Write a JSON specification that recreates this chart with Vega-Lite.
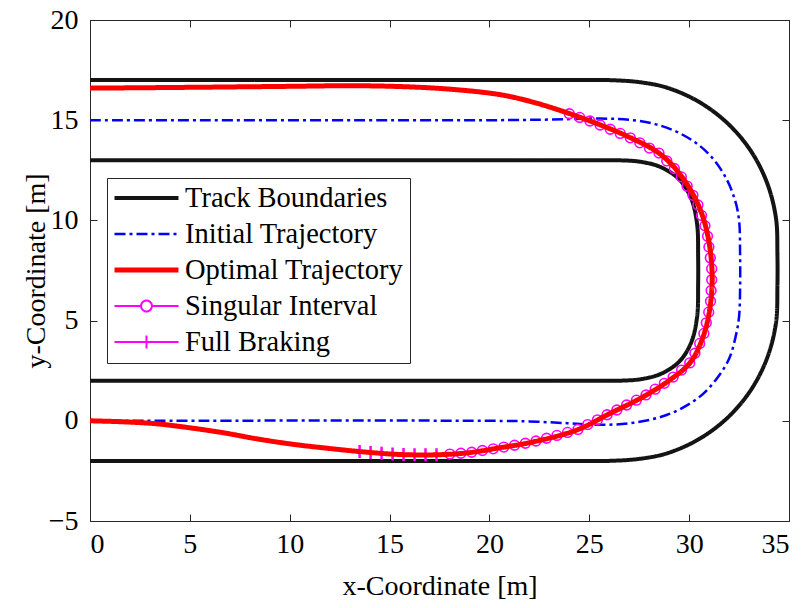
{
  "$schema": "https://vega.github.io/schema/vega-lite/v6.json",
  "width": 699,
  "height": 501,
  "autosize": {"type": "none"},
  "padding": {"left": 90, "top": 20, "right": 16, "bottom": 87},
  "background": "white",
  "config": {
    "view": {"stroke": "#262626", "strokeWidth": 1},
    "axis": {
      "grid": false,
      "domainColor": "#262626",
      "domainWidth": 1,
      "tickColor": "#262626",
      "tickWidth": 1,
      "tickSize": -7,
      "labelFont": "Liberation Serif",
      "labelFontSize": 28,
      "labelColor": "black",
      "titleFont": "Liberation Serif",
      "titleFontSize": 28,
      "titleFontWeight": "normal",
      "titleColor": "black"
    },
    "legend": {
      "orient": "none",
      "legendX": 17,
      "legendY": 158,
      "padding": 6,
      "fillColor": "white",
      "strokeColor": "#262626",
      "symbolSize": 4096,
      "symbolType": "M-1,0L1,0",
      "clipHeight": 28,
      "rowPadding": 7,
      "symbolOffset": -1,
      "labelOffset": 4,
      "labelFont": "Liberation Serif",
      "labelFontSize": 28.5,
      "labelColor": "black",
      "labelLimit": 400,
      "cornerRadius": 0
    }
  },
  "datasets": {
    "lines": [
      {"s": "Track Boundaries", "p": "outer", "i": 0, "x": 0, "y": 17},
      {"s": "Track Boundaries", "p": "outer", "i": 1, "x": 25, "y": 17},
      {"s": "Track Boundaries", "p": "outer", "i": 2, "x": 26, "y": 17},
      {"s": "Track Boundaries", "p": "outer", "i": 3, "x": 27.5, "y": 16.9},
      {"s": "Track Boundaries", "p": "outer", "i": 4, "x": 28.9, "y": 16.62},
      {"s": "Track Boundaries", "p": "outer", "i": 5, "x": 30.5, "y": 15.91},
      {"s": "Track Boundaries", "p": "outer", "i": 6, "x": 31.94, "y": 14.83},
      {"s": "Track Boundaries", "p": "outer", "i": 7, "x": 33.1, "y": 13.45},
      {"s": "Track Boundaries", "p": "outer", "i": 8, "x": 33.91, "y": 11.85},
      {"s": "Track Boundaries", "p": "outer", "i": 9, "x": 34.35, "y": 10.1},
      {"s": "Track Boundaries", "p": "outer", "i": 10, "x": 34.42, "y": 8.3},
      {"s": "Track Boundaries", "p": "outer", "i": 11, "x": 34.42, "y": 6.7},
      {"s": "Track Boundaries", "p": "outer", "i": 12, "x": 34.35, "y": 4.9},
      {"s": "Track Boundaries", "p": "outer", "i": 13, "x": 33.91, "y": 3.15},
      {"s": "Track Boundaries", "p": "outer", "i": 14, "x": 33.1, "y": 1.55},
      {"s": "Track Boundaries", "p": "outer", "i": 15, "x": 31.94, "y": 0.17},
      {"s": "Track Boundaries", "p": "outer", "i": 16, "x": 30.5, "y": -0.91},
      {"s": "Track Boundaries", "p": "outer", "i": 17, "x": 28.9, "y": -1.62},
      {"s": "Track Boundaries", "p": "outer", "i": 18, "x": 27.5, "y": -1.9},
      {"s": "Track Boundaries", "p": "outer", "i": 19, "x": 26, "y": -2},
      {"s": "Track Boundaries", "p": "outer", "i": 20, "x": 25, "y": -2},
      {"s": "Track Boundaries", "p": "outer", "i": 21, "x": 0, "y": -2},
      {"s": "Track Boundaries", "p": "inner", "i": 0, "x": 0, "y": 13},
      {"s": "Track Boundaries", "p": "inner", "i": 1, "x": 25, "y": 13},
      {"s": "Track Boundaries", "p": "inner", "i": 2, "x": 26.5, "y": 13},
      {"s": "Track Boundaries", "p": "inner", "i": 3, "x": 27.6, "y": 12.92},
      {"s": "Track Boundaries", "p": "inner", "i": 4, "x": 28.6, "y": 12.65},
      {"s": "Track Boundaries", "p": "inner", "i": 5, "x": 29.5, "y": 12.05},
      {"s": "Track Boundaries", "p": "inner", "i": 6, "x": 30.1, "y": 11.1},
      {"s": "Track Boundaries", "p": "inner", "i": 7, "x": 30.4, "y": 9.8},
      {"s": "Track Boundaries", "p": "inner", "i": 8, "x": 30.45, "y": 8.2},
      {"s": "Track Boundaries", "p": "inner", "i": 9, "x": 30.45, "y": 6.8},
      {"s": "Track Boundaries", "p": "inner", "i": 10, "x": 30.4, "y": 5.2},
      {"s": "Track Boundaries", "p": "inner", "i": 11, "x": 30.1, "y": 3.9},
      {"s": "Track Boundaries", "p": "inner", "i": 12, "x": 29.5, "y": 2.95},
      {"s": "Track Boundaries", "p": "inner", "i": 13, "x": 28.6, "y": 2.35},
      {"s": "Track Boundaries", "p": "inner", "i": 14, "x": 27.6, "y": 2.08},
      {"s": "Track Boundaries", "p": "inner", "i": 15, "x": 26.5, "y": 2},
      {"s": "Track Boundaries", "p": "inner", "i": 16, "x": 25, "y": 2},
      {"s": "Track Boundaries", "p": "inner", "i": 17, "x": 0, "y": 2},
      {"s": "Initial Trajectory", "p": "a", "i": 0, "x": 0, "y": 15},
      {"s": "Initial Trajectory", "p": "a", "i": 1, "x": 20, "y": 15},
      {"s": "Initial Trajectory", "p": "a", "i": 2, "x": 23, "y": 15.03},
      {"s": "Initial Trajectory", "p": "a", "i": 3, "x": 25.5, "y": 15.08},
      {"s": "Initial Trajectory", "p": "a", "i": 4, "x": 27.2, "y": 15.0},
      {"s": "Initial Trajectory", "p": "a", "i": 5, "x": 28.6, "y": 14.72},
      {"s": "Initial Trajectory", "p": "a", "i": 6, "x": 29.9, "y": 14.15},
      {"s": "Initial Trajectory", "p": "a", "i": 7, "x": 30.95, "y": 13.35},
      {"s": "Initial Trajectory", "p": "a", "i": 8, "x": 31.8, "y": 12.2},
      {"s": "Initial Trajectory", "p": "a", "i": 9, "x": 32.3, "y": 11.0},
      {"s": "Initial Trajectory", "p": "a", "i": 10, "x": 32.5, "y": 10.0},
      {"s": "Initial Trajectory", "p": "a", "i": 11, "x": 32.55, "y": 8.4},
      {"s": "Initial Trajectory", "p": "a", "i": 12, "x": 32.55, "y": 6.5},
      {"s": "Initial Trajectory", "p": "a", "i": 13, "x": 32.5, "y": 5.2},
      {"s": "Initial Trajectory", "p": "a", "i": 14, "x": 32.35, "y": 4.3},
      {"s": "Initial Trajectory", "p": "a", "i": 15, "x": 32.0, "y": 3.1},
      {"s": "Initial Trajectory", "p": "a", "i": 16, "x": 31.3, "y": 2.0},
      {"s": "Initial Trajectory", "p": "a", "i": 17, "x": 30.4, "y": 1.1},
      {"s": "Initial Trajectory", "p": "a", "i": 18, "x": 28.9, "y": 0.3},
      {"s": "Initial Trajectory", "p": "a", "i": 19, "x": 27.2, "y": -0.1},
      {"s": "Initial Trajectory", "p": "a", "i": 20, "x": 25.5, "y": -0.2},
      {"s": "Initial Trajectory", "p": "a", "i": 21, "x": 23.9, "y": -0.12},
      {"s": "Initial Trajectory", "p": "a", "i": 22, "x": 22, "y": -0.03},
      {"s": "Initial Trajectory", "p": "a", "i": 23, "x": 20, "y": 0},
      {"s": "Initial Trajectory", "p": "a", "i": 24, "x": 0, "y": 0},
      {"s": "Optimal Trajectory", "p": "a", "i": 0, "x": 0, "y": 16.6},
      {"s": "Optimal Trajectory", "p": "a", "i": 1, "x": 5, "y": 16.64},
      {"s": "Optimal Trajectory", "p": "a", "i": 2, "x": 10, "y": 16.69},
      {"s": "Optimal Trajectory", "p": "a", "i": 3, "x": 13, "y": 16.72},
      {"s": "Optimal Trajectory", "p": "a", "i": 4, "x": 15.5, "y": 16.68},
      {"s": "Optimal Trajectory", "p": "a", "i": 5, "x": 18, "y": 16.55},
      {"s": "Optimal Trajectory", "p": "a", "i": 6, "x": 20.5, "y": 16.28},
      {"s": "Optimal Trajectory", "p": "a", "i": 7, "x": 22, "y": 15.95},
      {"s": "Optimal Trajectory", "p": "a", "i": 8, "x": 23.5, "y": 15.5},
      {"s": "Optimal Trajectory", "p": "a", "i": 9, "x": 25.2, "y": 14.9},
      {"s": "Optimal Trajectory", "p": "a", "i": 10, "x": 26.9, "y": 14.2},
      {"s": "Optimal Trajectory", "p": "a", "i": 11, "x": 28.5, "y": 13.35},
      {"s": "Optimal Trajectory", "p": "a", "i": 12, "x": 29.5, "y": 12.35},
      {"s": "Optimal Trajectory", "p": "a", "i": 13, "x": 30.4, "y": 10.9},
      {"s": "Optimal Trajectory", "p": "a", "i": 14, "x": 30.9, "y": 9.4},
      {"s": "Optimal Trajectory", "p": "a", "i": 15, "x": 31.15, "y": 7.4},
      {"s": "Optimal Trajectory", "p": "a", "i": 16, "x": 31.05, "y": 5.7},
      {"s": "Optimal Trajectory", "p": "a", "i": 17, "x": 30.7, "y": 4.2},
      {"s": "Optimal Trajectory", "p": "a", "i": 18, "x": 30.05, "y": 2.9},
      {"s": "Optimal Trajectory", "p": "a", "i": 19, "x": 29.05, "y": 2.05},
      {"s": "Optimal Trajectory", "p": "a", "i": 20, "x": 27.7, "y": 1.2},
      {"s": "Optimal Trajectory", "p": "a", "i": 21, "x": 26, "y": 0.35},
      {"s": "Optimal Trajectory", "p": "a", "i": 22, "x": 24.4, "y": -0.45},
      {"s": "Optimal Trajectory", "p": "a", "i": 23, "x": 22.2, "y": -1.05},
      {"s": "Optimal Trajectory", "p": "a", "i": 24, "x": 20.5, "y": -1.35},
      {"s": "Optimal Trajectory", "p": "a", "i": 25, "x": 18.9, "y": -1.6},
      {"s": "Optimal Trajectory", "p": "a", "i": 26, "x": 17.2, "y": -1.7},
      {"s": "Optimal Trajectory", "p": "a", "i": 27, "x": 15.5, "y": -1.68},
      {"s": "Optimal Trajectory", "p": "a", "i": 28, "x": 13.9, "y": -1.57},
      {"s": "Optimal Trajectory", "p": "a", "i": 29, "x": 11.7, "y": -1.35},
      {"s": "Optimal Trajectory", "p": "a", "i": 30, "x": 10, "y": -1.15},
      {"s": "Optimal Trajectory", "p": "a", "i": 31, "x": 8.35, "y": -0.9},
      {"s": "Optimal Trajectory", "p": "a", "i": 32, "x": 6.7, "y": -0.6},
      {"s": "Optimal Trajectory", "p": "a", "i": 33, "x": 5, "y": -0.35},
      {"s": "Optimal Trajectory", "p": "a", "i": 34, "x": 3.35, "y": -0.15},
      {"s": "Optimal Trajectory", "p": "a", "i": 35, "x": 1.65, "y": -0.05},
      {"s": "Optimal Trajectory", "p": "a", "i": 36, "x": 0, "y": 0}
    ],
    "marks": [
      {"s": "Singular Interval", "x": 24.0, "y": 15.32},
      {"s": "Singular Interval", "x": 24.52, "y": 15.14},
      {"s": "Singular Interval", "x": 25.03, "y": 14.96},
      {"s": "Singular Interval", "x": 25.54, "y": 14.76},
      {"s": "Singular Interval", "x": 26.05, "y": 14.55},
      {"s": "Singular Interval", "x": 26.55, "y": 14.34},
      {"s": "Singular Interval", "x": 27.05, "y": 14.12},
      {"s": "Singular Interval", "x": 27.53, "y": 13.87},
      {"s": "Singular Interval", "x": 28.01, "y": 13.61},
      {"s": "Singular Interval", "x": 28.49, "y": 13.36},
      {"s": "Singular Interval", "x": 28.88, "y": 12.97},
      {"s": "Singular Interval", "x": 29.26, "y": 12.59},
      {"s": "Singular Interval", "x": 29.61, "y": 12.17},
      {"s": "Singular Interval", "x": 29.9, "y": 11.71},
      {"s": "Singular Interval", "x": 30.19, "y": 11.25},
      {"s": "Singular Interval", "x": 30.44, "y": 10.77},
      {"s": "Singular Interval", "x": 30.62, "y": 10.25},
      {"s": "Singular Interval", "x": 30.79, "y": 9.73},
      {"s": "Singular Interval", "x": 30.92, "y": 9.21},
      {"s": "Singular Interval", "x": 30.99, "y": 8.67},
      {"s": "Singular Interval", "x": 31.06, "y": 8.13},
      {"s": "Singular Interval", "x": 31.13, "y": 7.59},
      {"s": "Singular Interval", "x": 31.13, "y": 7.04},
      {"s": "Singular Interval", "x": 31.1, "y": 6.5},
      {"s": "Singular Interval", "x": 31.07, "y": 5.96},
      {"s": "Singular Interval", "x": 30.98, "y": 5.42},
      {"s": "Singular Interval", "x": 30.86, "y": 4.89},
      {"s": "Singular Interval", "x": 30.74, "y": 4.36},
      {"s": "Singular Interval", "x": 30.53, "y": 3.86},
      {"s": "Singular Interval", "x": 30.29, "y": 3.37},
      {"s": "Singular Interval", "x": 30.03, "y": 2.89},
      {"s": "Singular Interval", "x": 29.62, "y": 2.53},
      {"s": "Singular Interval", "x": 29.2, "y": 2.18},
      {"s": "Singular Interval", "x": 28.76, "y": 1.87},
      {"s": "Singular Interval", "x": 28.3, "y": 1.58},
      {"s": "Singular Interval", "x": 27.84, "y": 1.29},
      {"s": "Singular Interval", "x": 27.36, "y": 1.03},
      {"s": "Singular Interval", "x": 26.87, "y": 0.79},
      {"s": "Singular Interval", "x": 26.38, "y": 0.54},
      {"s": "Singular Interval", "x": 25.89, "y": 0.3},
      {"s": "Singular Interval", "x": 25.41, "y": 0.05},
      {"s": "Singular Interval", "x": 24.92, "y": -0.19},
      {"s": "Singular Interval", "x": 24.43, "y": -0.43},
      {"s": "Singular Interval", "x": 23.91, "y": -0.58},
      {"s": "Singular Interval", "x": 23.38, "y": -0.73},
      {"s": "Singular Interval", "x": 22.86, "y": -0.87},
      {"s": "Singular Interval", "x": 22.33, "y": -1.01},
      {"s": "Singular Interval", "x": 21.8, "y": -1.12},
      {"s": "Singular Interval", "x": 21.26, "y": -1.22},
      {"s": "Singular Interval", "x": 20.72, "y": -1.31},
      {"s": "Singular Interval", "x": 20.19, "y": -1.4},
      {"s": "Singular Interval", "x": 19.65, "y": -1.48},
      {"s": "Singular Interval", "x": 19.11, "y": -1.57},
      {"s": "Singular Interval", "x": 18.57, "y": -1.62},
      {"s": "Singular Interval", "x": 18.02, "y": -1.66},
      {"s": "Full Braking", "x": 13.5, "y": -1.53},
      {"s": "Full Braking", "x": 14.05, "y": -1.58},
      {"s": "Full Braking", "x": 14.6, "y": -1.62},
      {"s": "Full Braking", "x": 15.15, "y": -1.66},
      {"s": "Full Braking", "x": 15.7, "y": -1.685},
      {"s": "Full Braking", "x": 16.25, "y": -1.69},
      {"s": "Full Braking", "x": 16.8, "y": -1.7},
      {"s": "Full Braking", "x": 17.35, "y": -1.7}
    ]
  },
  "layer": [
    {
      "data": {"name": "lines"},
      "transform": [{"filter": "datum.s === 'Track Boundaries'"}],
      "mark": {"type": "line", "interpolate": "catmull-rom", "strokeJoin": "round"},
      "encoding": {
        "x": {"field": "x", "type": "quantitative", "scale": {"domain": [0, 35], "nice": false, "zero": false},
              "axis": {"orient": "bottom", "values": [0, 5, 10, 15, 20, 25, 30, 35], "title": "x-Coordinate [m]", "labelPadding": 16, "titlePadding": 14}},
        "y": {"field": "y", "type": "quantitative", "scale": {"domain": [-5, 20], "nice": false, "zero": false},
              "axis": {"orient": "left", "values": [-5, 0, 5, 10, 15, 20], "title": "y-Coordinate [m]", "labelPadding": 19, "titlePadding": -2}},
        "order": {"field": "i", "type": "quantitative"},
        "detail": {"field": "p", "type": "nominal"},
        "color": {"field": "s", "type": "nominal",
                  "scale": {"domain": ["Track Boundaries", "Initial Trajectory", "Optimal Trajectory", "Singular Interval", "Full Braking"], "range": ["#141414", "#0000ff", "#ff0000", "#ff00ff", "#ff00ff"]},
                  "legend": {"title": null, "labelExpr": "datum.label + '\u00a0\u00a0\u00a0\u00a0\u00a0\u00a0'", "encode": {"symbols": {"update": {"shape": {"signal": "datum.value === 'Singular Interval' ? 'M-1,0L-0.17,0M0.17,0L1,0M-0.17,0A0.17,0.17,0,1,1,0.17,0A0.17,0.17,0,1,1,-0.17,0Z' : (datum.value === 'Full Braking' ? 'M-1,0L1,0M0,-0.2L0,0.2' : 'M-1,0L1,0')"}, "fill": {"value": "white"}}}}}},
        "strokeWidth": {"field": "s", "type": "nominal",
                        "scale": {"type": "ordinal", "domain": ["Track Boundaries", "Initial Trajectory", "Optimal Trajectory", "Singular Interval", "Full Braking"], "range": [4, 2.5, 5, 2, 2]},
                        "legend": {"title": null, "labelExpr": "datum.label + '\u00a0\u00a0\u00a0\u00a0\u00a0\u00a0'"}},
        "strokeDash": {"field": "s", "type": "nominal",
                       "scale": {"domain": ["Track Boundaries", "Initial Trajectory", "Optimal Trajectory", "Singular Interval", "Full Braking"], "range": [[1, 0], [11, 4, 3, 4], [1, 0], [1, 0], [1, 0]]},
                       "legend": {"title": null, "labelExpr": "datum.label + '\u00a0\u00a0\u00a0\u00a0\u00a0\u00a0'"}}
      }
    },
    {
      "data": {"name": "lines"},
      "transform": [{"filter": "datum.s === 'Initial Trajectory'"}],
      "mark": {"type": "line", "interpolate": "catmull-rom", "strokeJoin": "round"},
      "encoding": {
        "x": {"field": "x", "type": "quantitative", "scale": {"domain": [0, 35], "nice": false, "zero": false},
              "axis": {"orient": "top", "values": [0, 5, 10, 15, 20, 25, 30, 35], "labels": false, "title": null}},
        "y": {"field": "y", "type": "quantitative", "scale": {"domain": [-5, 20], "nice": false, "zero": false},
              "axis": {"orient": "right", "values": [-5, 0, 5, 10, 15, 20], "labels": false, "title": null}},
        "order": {"field": "i", "type": "quantitative"},
        "detail": {"field": "p", "type": "nominal"},
        "color": {"field": "s", "type": "nominal",
                  "scale": {"domain": ["Track Boundaries", "Initial Trajectory", "Optimal Trajectory", "Singular Interval", "Full Braking"], "range": ["#141414", "#0000ff", "#ff0000", "#ff00ff", "#ff00ff"]},
                  "legend": {"title": null, "labelExpr": "datum.label + '\u00a0\u00a0\u00a0\u00a0\u00a0\u00a0'", "encode": {"symbols": {"update": {"shape": {"signal": "datum.value === 'Singular Interval' ? 'M-1,0L-0.17,0M0.17,0L1,0M-0.17,0A0.17,0.17,0,1,1,0.17,0A0.17,0.17,0,1,1,-0.17,0Z' : (datum.value === 'Full Braking' ? 'M-1,0L1,0M0,-0.2L0,0.2' : 'M-1,0L1,0')"}, "fill": {"value": "white"}}}}}},
        "strokeWidth": {"field": "s", "type": "nominal",
                        "scale": {"type": "ordinal", "domain": ["Track Boundaries", "Initial Trajectory", "Optimal Trajectory", "Singular Interval", "Full Braking"], "range": [4, 2.5, 5, 2, 2]},
                        "legend": {"title": null, "labelExpr": "datum.label + '\u00a0\u00a0\u00a0\u00a0\u00a0\u00a0'"}},
        "strokeDash": {"field": "s", "type": "nominal",
                       "scale": {"domain": ["Track Boundaries", "Initial Trajectory", "Optimal Trajectory", "Singular Interval", "Full Braking"], "range": [[1, 0], [11, 4, 3, 4], [1, 0], [1, 0], [1, 0]]},
                       "legend": {"title": null, "labelExpr": "datum.label + '\u00a0\u00a0\u00a0\u00a0\u00a0\u00a0'"}}
      }
    },
    {
      "data": {"name": "marks"},
      "transform": [{"filter": "datum.s === 'Singular Interval'"}],
      "mark": {"type": "point", "shape": "circle", "filled": false, "size": 95, "strokeWidth": 1.6, "opacity": 1, "color": "#ff00ff"},
      "encoding": {
        "x": {"field": "x", "type": "quantitative", "axis": null},
        "y": {"field": "y", "type": "quantitative", "axis": null}
      }
    },
    {
      "data": {"name": "marks"},
      "transform": [{"filter": "datum.s === 'Full Braking'"}],
      "mark": {"type": "point", "shape": "M0,-1L0,1M-1,0L1,0", "filled": false, "size": 169, "strokeWidth": 2.5, "opacity": 1, "color": "#ff00ff"},
      "encoding": {
        "x": {"field": "x", "type": "quantitative", "axis": null},
        "y": {"field": "y", "type": "quantitative", "axis": null}
      }
    },
    {
      "data": {"name": "lines"},
      "transform": [{"filter": "datum.s === 'Optimal Trajectory'"}],
      "mark": {"type": "line", "interpolate": "catmull-rom", "strokeJoin": "round"},
      "encoding": {
        "x": {"field": "x", "type": "quantitative", "axis": null},
        "y": {"field": "y", "type": "quantitative", "axis": null},
        "order": {"field": "i", "type": "quantitative"},
        "detail": {"field": "p", "type": "nominal"},
        "color": {"field": "s", "type": "nominal",
                  "scale": {"domain": ["Track Boundaries", "Initial Trajectory", "Optimal Trajectory", "Singular Interval", "Full Braking"], "range": ["#141414", "#0000ff", "#ff0000", "#ff00ff", "#ff00ff"]},
                  "legend": {"title": null, "labelExpr": "datum.label + '\u00a0\u00a0\u00a0\u00a0\u00a0\u00a0'", "encode": {"symbols": {"update": {"shape": {"signal": "datum.value === 'Singular Interval' ? 'M-1,0L-0.17,0M0.17,0L1,0M-0.17,0A0.17,0.17,0,1,1,0.17,0A0.17,0.17,0,1,1,-0.17,0Z' : (datum.value === 'Full Braking' ? 'M-1,0L1,0M0,-0.2L0,0.2' : 'M-1,0L1,0')"}, "fill": {"value": "white"}}}}}},
        "strokeWidth": {"field": "s", "type": "nominal",
                        "scale": {"type": "ordinal", "domain": ["Track Boundaries", "Initial Trajectory", "Optimal Trajectory", "Singular Interval", "Full Braking"], "range": [4, 2.5, 5, 2, 2]},
                        "legend": {"title": null, "labelExpr": "datum.label + '\u00a0\u00a0\u00a0\u00a0\u00a0\u00a0'"}},
        "strokeDash": {"field": "s", "type": "nominal",
                       "scale": {"domain": ["Track Boundaries", "Initial Trajectory", "Optimal Trajectory", "Singular Interval", "Full Braking"], "range": [[1, 0], [11, 4, 3, 4], [1, 0], [1, 0], [1, 0]]},
                       "legend": {"title": null, "labelExpr": "datum.label + '\u00a0\u00a0\u00a0\u00a0\u00a0\u00a0'"}}
      }
    }
  ]
}
